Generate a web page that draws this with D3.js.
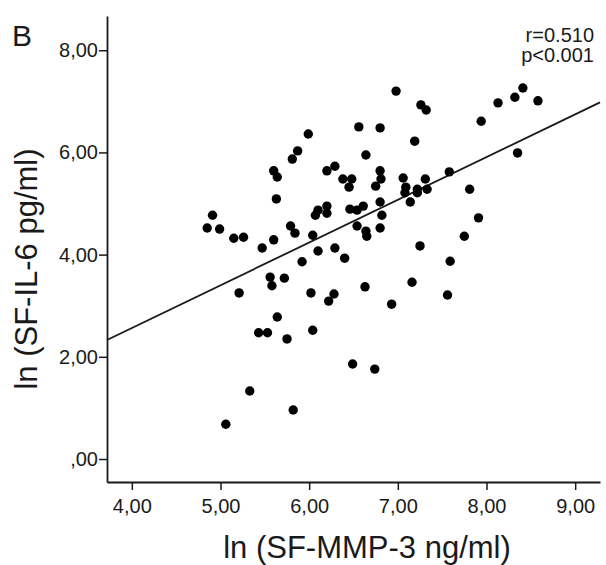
<!DOCTYPE html>
<meta charset="utf-8">
<script src="https://d3js.org/d3.v7.min.js"></script>
<style>
  body { margin: 0; background: #fff; }
  text { font-family: "Liberation Sans", Arial, sans-serif; fill: #1a1a1a; }
</style>
<div id="my_dataviz"></div>
<script>
// ln(SF-MMP-3) values
var mmp3 = [4.85, 4.91, 4.99, 5.15, 5.26, 5.47, 5.60, 5.60, 5.64, 5.63,
            5.81, 5.87, 5.99, 5.79, 5.84, 6.04, 6.10, 6.07, 6.20, 6.20,
            6.20, 6.29, 6.38, 6.48, 6.45, 6.56, 6.80, 6.64, 6.98, 7.26,
            7.32, 7.19, 6.80, 6.81, 6.75, 7.06, 7.31, 7.09, 7.08, 7.14,
            7.22, 7.22, 7.33, 7.58, 7.81, 7.94, 8.13, 8.32, 8.41, 8.58,
            8.35, 7.91, 7.75, 7.59, 7.25, 6.80, 6.82, 6.80, 6.61, 6.54,
            6.46, 6.54, 6.64, 6.65, 6.10, 6.29, 6.40, 5.92, 7.16, 6.63,
            6.28, 6.22, 6.93, 7.56, 6.02, 5.56, 5.58, 5.72, 5.21, 5.64,
            5.43, 5.53, 5.75, 6.04, 6.49, 6.74, 5.33, 5.82, 5.06];
// ln(SF-IL-6) values, same order
var il6 = [4.52, 4.77, 4.50, 4.32, 4.34, 4.13, 4.29, 5.64, 5.52, 5.09,
           5.87, 6.03, 6.36, 4.56, 4.42, 4.38, 4.87, 4.77, 4.95, 4.81,
           5.64, 5.73, 5.48, 5.48, 5.32, 6.50, 6.48, 5.95, 7.20, 6.93,
           6.83, 6.22, 5.64, 5.48, 5.34, 5.50, 5.48, 5.32, 5.21, 5.03,
           5.28, 5.21, 5.28, 5.62, 5.28, 6.61, 6.97, 7.08, 7.26, 7.01,
           5.99, 4.72, 4.36, 3.87, 4.17, 5.03, 4.77, 4.52, 4.95, 4.87,
           4.89, 4.56, 4.46, 4.36, 4.07, 4.13, 3.93, 3.86, 3.46, 3.37,
           3.23, 3.09, 3.03, 3.21, 3.25, 3.56, 3.39, 3.54, 3.25, 2.78,
           2.47, 2.47, 2.35, 2.52, 1.86, 1.76, 1.33, 0.96, 0.68];

var xTicks = [4, 5, 6, 7, 8, 9];
var yTicks = [0, 2, 4, 6, 8];

// fit line as drawn in the figure
var fitIntercept = -0.781;
var fitSlope = 0.8363;

var statLines = ["r=0.510", "p<0.001"];

var W = 606, H = 565;
var margin = {top: 16, right: 6, bottom: 83, left: 107};
var width = W - margin.left - margin.right;
var height = H - margin.top - margin.bottom;

var svg = d3.select("#my_dataviz")
    .append("svg")
    .attr("width", W)
    .attr("height", H);

var g = svg.append("g")
    .attr("transform", "translate(" + margin.left + "," + margin.top + ")");

var x = d3.scaleLinear().domain([3.72, 9.28]).range([0, width]);
var y = d3.scaleLinear().domain([-0.45, 8.67]).range([height, 0]);

function fmt(d) {
    var s = d.toFixed(2).replace(".", ",");
    return d === 0 ? s.slice(1) : s;
}

// axes
var xAxis = g.append("g")
    .attr("transform", "translate(0," + height + ")")
    .call(d3.axisBottom(x).tickValues(xTicks).tickFormat(fmt).tickSize(8).tickSizeOuter(0).tickPadding(5));
var yAxis = g.append("g")
    .call(d3.axisLeft(y).tickValues(yTicks).tickFormat(fmt).tickSize(8).tickSizeOuter(0).tickPadding(1));

[xAxis, yAxis].forEach(function(a) {
    a.select(".domain").attr("stroke", "#1a1a1a").attr("stroke-width", 1.8);
    a.selectAll(".tick line").attr("stroke", "#1a1a1a").attr("stroke-width", 1.5);
    a.selectAll(".tick text").attr("font-size", 20).attr("fill", "#1a1a1a");
});
xAxis.selectAll(".tick text").attr("dy", "0.9em");

// regression line
var x0 = x.domain()[0], x1 = x.domain()[1];
g.append("line")
    .attr("x1", x(x0)).attr("y1", y(fitIntercept + fitSlope * x0))
    .attr("x2", x(x1)).attr("y2", y(fitIntercept + fitSlope * x1))
    .attr("stroke", "#1a1a1a")
    .attr("stroke-width", 1.8);

// points
g.selectAll("circle")
    .data(mmp3.map(function(v, i) { return [v, il6[i]]; }))
    .enter()
    .append("circle")
    .attr("cx", function(d) { return x(d[0]); })
    .attr("cy", function(d) { return y(d[1]); })
    .attr("r", 4.7)
    .attr("fill", "#000");

// stats text
svg.selectAll(".stat")
    .data(statLines)
    .enter()
    .append("text")
    .attr("class", "stat")
    .attr("x", 594)
    .attr("y", function(d, i) { return 42 + i * 20; })
    .attr("text-anchor", "end")
    .attr("font-size", 20)
    .text(function(d) { return d; });

// panel letter
svg.append("text")
    .attr("x", 12)
    .attr("y", 46)
    .attr("font-size", 30)
    .text("B");

// axis titles
svg.append("text")
    .attr("x", 367)
    .attr("y", 558)
    .attr("text-anchor", "middle")
    .attr("font-size", 31)
    .text("ln (SF-MMP-3 ng/ml)");

svg.append("text")
    .attr("transform", "translate(37,269) rotate(-90)")
    .attr("text-anchor", "middle")
    .attr("font-size", 31)
    .text("ln (SF-IL-6 pg/ml)");
</script>
